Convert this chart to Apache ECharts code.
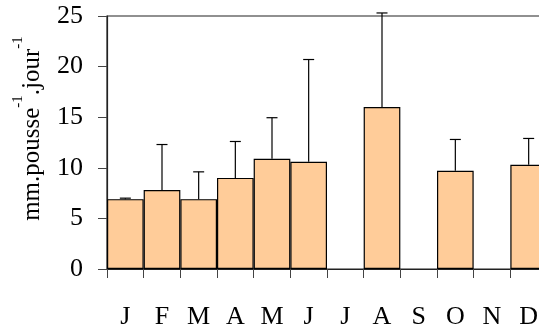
<!DOCTYPE html>
<html>
<head>
<meta charset="utf-8">
<script src="https://cdn.jsdelivr.net/npm/echarts@6/dist/echarts.min.js"></script>
<style>html,body{margin:0;padding:0;background:#fff;overflow:hidden;width:539px;height:331px;}#c{width:547px;height:331px;}</style>
</head>
<body>
<div id="c"></div>
<script>
const months = ['J','F','M','A','M','J','J','A','S','O','N','D'];
const growth = [6.9, 7.8, 6.9, 9.0, 10.9, 10.6, null, 16.0, null, 9.7, null, 10.3];
const upperError = [7.0, 12.3, 9.6, 12.6, 14.95, 20.7, null, 25.3, null, 12.8, null, 12.9];
const yTicks = [0, 5, 10, 15, 20, 25];

const FONT = 'Liberation Serif';
const chart = echarts.init(document.getElementById('c'), null, {renderer: 'canvas'});
const errData = months.map((m, i) => [i, growth[i], upperError[i]]).filter(d => d[1] != null);

chart.setOption({
  animation: false,
  grid: {left: 107, top: 16, right: 0, bottom: 62, show: true, borderColor: '#222', borderWidth: 1.2, backgroundColor: 'transparent'},
  xAxis: {
    type: 'category', data: months, boundaryGap: true,
    axisLine: {lineStyle: {color: '#222', width: 1.2}},
    axisTick: {show: true, length: 9, inside: false, lineStyle: {color: '#444'}},
    axisLabel: {margin: 35, color: '#000', fontFamily: FONT, fontSize: 26, interval: 0}
  },
  yAxis: {
    type: 'value', min: yTicks[0], max: yTicks[yTicks.length - 1], interval: 5,
    splitLine: {show: false},
    axisLine: {show: true, lineStyle: {color: '#222', width: 1.2}},
    axisTick: {show: true, length: 9, lineStyle: {color: '#444'}},
    axisLabel: {margin: 24, color: '#000', fontFamily: FONT, fontSize: 26},
    name: '{m|mm.pousse}{s|-1}{m|.jour}{s|-1}',
    nameLocation: 'middle', nameRotate: 90, nameGap: 62,
    nameTextStyle: {
      padding: [0, 0, 0, 28],
      rich: {
        m: {fontFamily: FONT, fontSize: 25, color: '#000', lineHeight: 34, verticalAlign: 'bottom'},
        s: {fontFamily: FONT, fontSize: 15, color: '#000', lineHeight: 34, verticalAlign: 'top'}
      }
    }
  },
  series: [
    {
      type: 'bar', data: growth, barCategoryGap: 0, barGap: 0,
      itemStyle: {color: '#FFCC99', borderColor: '#000', borderWidth: 1.2},
      z: 2
    },
    {
      type: 'custom', data: errData, z: 3, clip: false,
      renderItem: function (params, api) {
        const x = api.value(0);
        const base = api.coord([x, api.value(1)]);
        const top = api.coord([x, api.value(2)]);
        const hw = 5.5;
        return {
          type: 'group',
          children: [
            {type: 'line', shape: {x1: base[0], y1: base[1], x2: top[0], y2: top[1]}, style: {stroke: '#000', lineWidth: 1.2}},
            {type: 'line', shape: {x1: top[0] - hw, y1: top[1], x2: top[0] + hw, y2: top[1]}, style: {stroke: '#000', lineWidth: 1.2}}
          ]
        };
      }
    }
  ]
});
</script>
</body>
</html>
